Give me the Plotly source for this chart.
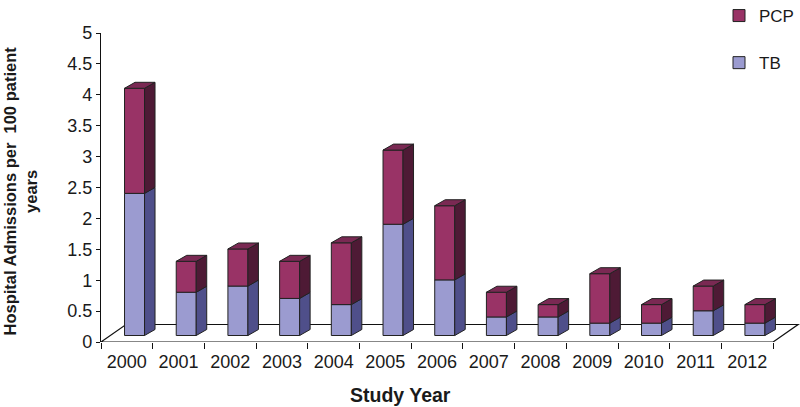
import plotly.graph_objects as go

# ---- data ----
years = ["2000", "2001", "2002", "2003", "2004", "2005", "2006",
         "2007", "2008", "2009", "2010", "2011", "2012"]
tb = [2.3, 0.7, 0.8, 0.6, 0.5, 1.8, 0.9, 0.3, 0.3, 0.2, 0.2, 0.4, 0.2]
pcp = [1.7, 0.5, 0.6, 0.6, 1.0, 1.2, 1.2, 0.4, 0.2, 0.8, 0.3, 0.4, 0.3]
y_ticks = [0, 0.5, 1, 1.5, 2, 2.5, 3, 3.5, 4, 4.5, 5]
y_tick_text = ["0", "0.5", "1", "1.5", "2", "2.5", "3", "3.5", "4", "4.5", "5"]

# ---- geometry / style (pseudo-3D) ----
PX_X = 51.7   # px per category
PX_Y = 61.8   # px per unit
BAR_OFF = -0.045
BAR_W = 0.387
BASE = 6.5 / PX_Y          # bars sit in the middle of the floor depth
DX = 10.5 / PX_X           # box depth (x)
DY = 6.0 / PX_Y            # box depth (y)
FLOOR_DX = 25.0 / PX_X
FLOOR_DY = 17.5 / PX_Y

C_TB = "#9b9bd0"
C_TB_SIDE = "#4f4f8a"
C_PCP = "#993366"
C_PCP_SIDE = "#4e1a35"
C_PCP_TOP = "#7a2953"
EDGE = "#222222"
FONT = "Liberation Sans, Arial, sans-serif"

pos = list(range(len(years)))
tb_base = [BASE] * len(years)
pcp_base = [BASE + t for t in tb]


def side_faces(bases, heights):
    xs, ys = [], []
    for p, b, h in zip(pos, bases, heights):
        x1 = p + BAR_OFF + BAR_W
        xs += [x1, x1, x1 + DX, x1 + DX, x1, None]
        ys += [b, b + h, b + h + DY, b + DY, b, None]
    return xs, ys


def top_faces(bases, heights):
    xs, ys = [], []
    for p, b, h in zip(pos, bases, heights):
        x0 = p + BAR_OFF
        x1 = x0 + BAR_W
        t = b + h
        xs += [x0, x1, x1 + DX, x0 + DX, x0, None]
        ys += [t, t, t + DY, t + DY, t, None]
    return xs, ys


fig = go.Figure()

fig.add_trace(go.Bar(
    x=pos, y=tb, base=tb_base, name="TB", width=BAR_W, offset=BAR_OFF,
    marker=dict(color=C_TB, line=dict(color=EDGE, width=1)),
    legendgroup="tb", legendrank=2))
fig.add_trace(go.Bar(
    x=pos, y=pcp, base=pcp_base, name="PCP", width=BAR_W, offset=BAR_OFF,
    marker=dict(color=C_PCP, line=dict(color=EDGE, width=1)),
    legendgroup="pcp", legendrank=1))

sx, sy = side_faces(tb_base, tb)
fig.add_trace(go.Scatter(x=sx, y=sy, mode="lines", fill="toself",
                         fillcolor=C_TB_SIDE, line=dict(color=EDGE, width=1),
                         showlegend=False, hoverinfo="skip"))
sx, sy = side_faces(pcp_base, pcp)
fig.add_trace(go.Scatter(x=sx, y=sy, mode="lines", fill="toself",
                         fillcolor=C_PCP_SIDE, line=dict(color=EDGE, width=1),
                         showlegend=False, hoverinfo="skip"))
tx, ty = top_faces(pcp_base, pcp)
fig.add_trace(go.Scatter(x=tx, y=ty, mode="lines", fill="toself",
                         fillcolor=C_PCP_TOP, line=dict(color=EDGE, width=1),
                         showlegend=False, hoverinfo="skip"))

# floor (parallelogram) and front axis line
x_lo, x_hi = -0.5, len(years) - 0.5
floor_path = (f"M{x_lo},0 L{x_lo + FLOOR_DX},{FLOOR_DY} "
              f"L{x_hi + FLOOR_DX},{FLOOR_DY} L{x_hi},0 Z")
fig.add_shape(type="path", path=floor_path, xref="x", yref="y",
              line=dict(color="#111111", width=1.2), fillcolor="white",
              layer="below")

fig.update_layout(
    width=800, height=407,
    margin=dict(l=101, r=0, t=33, b=65, autoexpand=False),
    paper_bgcolor="white", plot_bgcolor="white",
    barmode="overlay",
    font=dict(family=FONT, size=18, color="#1a1a1a"),
    showlegend=True,
    legend=dict(x=(719 - 101) / 699, y=1 + 35 / 309, xanchor="left",
                yanchor="top", tracegroupgap=22, font=dict(size=17),
                bgcolor="rgba(0,0,0,0)", itemwidth=30),
    xaxis=dict(range=[x_lo, x_lo + 699 / PX_X], showline=False,
               showgrid=False, zeroline=False,
               tickmode="array", tickvals=pos, ticktext=years, ticks="",
               ticklabelstandoff=7,
               minor=dict(tickmode="linear", tick0=-0.5, dtick=1,
                          ticks="outside", ticklen=6, tickcolor="#111111",
                          tickwidth=1.2, showgrid=False),
               title=None),
    yaxis=dict(range=[0, 5], showline=True, linecolor="#111111",
               linewidth=1.2, showgrid=False, zeroline=False,
               tickmode="array", tickvals=y_ticks, ticktext=y_tick_text,
               ticks="outside", ticklen=4, tickcolor="#111111",
               tickwidth=1.2, title=None),
)

fig.add_annotation(text="Hospital Admissions per  100 patient<br>years",
                   xref="paper", yref="paper", x=-102 / 699, xanchor="left",
                   y=(342 - 191) / 309, yanchor="middle", textangle=-90,
                   showarrow=False,
                   font=dict(family=FONT, size=16.5, color="#1a1a1a",
                             weight="bold"))
fig.add_annotation(text="Study Year", xref="paper", yref="paper",
                   x=(400 - 101) / 699, xanchor="center",
                   y=-(395 - 342) / 309, yanchor="middle", showarrow=False,
                   font=dict(family=FONT, size=19.5, color="#1a1a1a",
                             weight="bold"))

fig.write_html("out.html",
               config={"displayModeBar": False},
               post_script="document.body.style.margin='0px';"
                           "document.body.style.overflow='hidden';")
